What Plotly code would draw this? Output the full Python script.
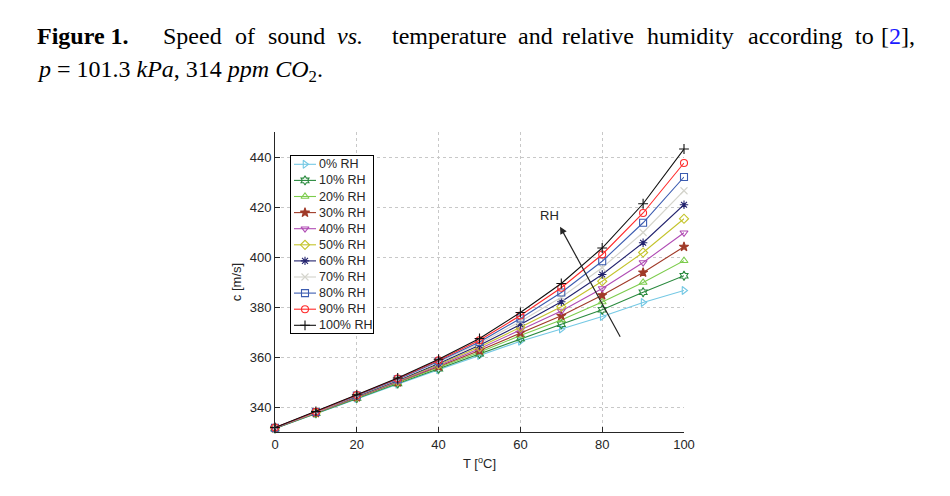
import plotly.graph_objects as go

temperature = [0, 10, 20, 30, 40, 50, 60, 70, 80, 90, 100]

rh_labels = ["0% RH", "10% RH", "20% RH", "30% RH", "40% RH", "50% RH",
             "60% RH", "70% RH", "80% RH", "90% RH", "100% RH"]

c_rh0 = [331.4, 337.4, 343.4, 349.1, 354.9, 360.6, 366.3, 371.2, 376.2, 381.8, 386.6]
c_rh10 = [331.4, 337.5, 343.6, 349.4, 355.3, 361.3, 367.4, 373.1, 378.9, 385.9, 392.5]
c_rh20 = [331.5, 337.6, 343.7, 349.6, 355.7, 361.9, 368.6, 374.8, 382.0, 389.8, 398.5]
c_rh30 = [331.5, 337.6, 343.9, 349.9, 356.2, 362.6, 369.7, 376.5, 384.7, 393.8, 404.1]
c_rh40 = [331.6, 337.7, 344.0, 350.1, 356.6, 363.3, 370.8, 378.4, 387.4, 397.8, 409.7]
c_rh50 = [331.6, 337.8, 344.2, 350.4, 357.0, 364.0, 371.9, 380.1, 390.3, 401.8, 415.3]
c_rh60 = [331.6, 337.9, 344.3, 350.6, 357.4, 364.7, 373.0, 382.1, 393.0, 405.7, 420.9]
c_rh70 = [331.7, 337.9, 344.5, 350.9, 357.9, 365.4, 374.2, 383.9, 395.7, 409.8, 426.5]
c_rh80 = [331.7, 338.0, 344.6, 351.1, 358.3, 366.0, 375.4, 385.8, 398.3, 413.7, 432.0]
c_rh90 = [331.8, 338.1, 344.8, 351.4, 358.7, 366.7, 376.6, 387.7, 401.0, 417.6, 437.6]
c_rh100 = [331.8, 338.2, 344.9, 351.6, 359.1, 367.4, 377.8, 389.4, 403.6, 421.3, 443.2]

series = [c_rh0, c_rh10, c_rh20, c_rh30, c_rh40, c_rh50, c_rh60, c_rh70, c_rh80, c_rh90, c_rh100]

colors = ["#74c8e4", "#2a8a3e", "#7ccc4c", "#a03a28", "#b04cb4", "#c4c42c",
          "#23236e", "#d4d4cc", "#3c5cb0", "#ff2a2a", "#101010"]
symbols = ["triangle-right-open", "hexagram-open", "triangle-up-open", "star",
           "triangle-down-open", "diamond-open", "asterisk-open", "x-thin-open",
           "square-open", "circle-open", "cross-thin-open"]

caption_words = ["<b>Figure 1.</b>", "Speed", "of", "sound", "<i>vs.</i>", "temperature",
                 "and", "relative", "humidity", "according", "to",
                 "[<span style='color:#1a1aff'>2</span>],"]
caption_line2 = "<i>p</i> = 101.3 <i>kPa</i>, 314 <i>ppm CO</i><sub>2</sub>."

# ---------------- layout geometry (page pixels; body has an 8px margin) -------------
OFF = 8
W, H = 934, 480
L, R, T, B = 267, 258, 124, 56
pw, ph = W - L - R, H - T - B


def px(x):
    return (x - OFF - L) / pw


def py(y):
    return (H - B - (y - OFF)) / ph


fig = go.Figure()
for lab, ys, col, sym in zip(rh_labels, series, colors, symbols):
    fig.add_trace(go.Scatter(
        x=temperature, y=ys, name=lab, mode="lines+markers",
        line=dict(color=col, width=1.1),
        marker=dict(symbol=sym, size=7, color=col, line=dict(color=col, width=1.1)),
        cliponaxis=False, showlegend=False,
    ))

# ---------------- custom legend in an inset axis (82 x 177 px box) -------------------
LX0, LX1, LY0, LY1 = 291, 373, 156, 333
lw, lh = LX1 - LX0, LY1 - LY0
for i, (lab, col, sym) in enumerate(zip(rh_labels, colors, symbols)):
    yy = lh - (8.3 + 16.1 * i)
    fig.add_trace(go.Scatter(
        x=[3, 14, 25], y=[yy, yy, yy], mode="lines+markers",
        line=dict(color=col, width=1.1),
        marker=dict(symbol=sym, size=7, color=col, opacity=[0, 1, 0],
                    line=dict(color=col, width=1.1)),
        xaxis="x2", yaxis="y2", showlegend=False, hoverinfo="skip",
    ))
    fig.add_annotation(x=25.5, y=yy, xref="x2", yref="y2", text=lab, showarrow=False,
                       xanchor="left", yanchor="middle",
                       font=dict(size=12.5, color="#262626"))

fig.update_layout(
    width=W, height=H,
    margin=dict(l=L, r=R, t=T, b=B),
    paper_bgcolor="white", plot_bgcolor="white",
    font=dict(family="Liberation Sans, Arial, sans-serif", size=13, color="#262626"),
    showlegend=False,
    xaxis=dict(range=[0, 100], tickvals=[0, 20, 40, 60, 80, 100],
               showgrid=True, gridcolor="#c8c8c8", griddash="dot", gridwidth=1,
               showline=True, linecolor="#262626", linewidth=1,
               ticks="inside", ticklen=5, tickcolor="#262626",
               zeroline=False, mirror=False,
               title=dict(text="T [<sup>o</sup>C]", standoff=8, font=dict(size=13))),
    yaxis=dict(range=[330, 450], tickvals=[340, 360, 380, 400, 420, 440],
               showgrid=True, gridcolor="#c8c8c8", griddash="dot", gridwidth=1,
               showline=True, linecolor="#262626", linewidth=1,
               ticks="inside", ticklen=5, tickcolor="#262626",
               zeroline=False, mirror=False,
               title=dict(text="c [m/s]", standoff=5, font=dict(size=13))),
    xaxis2=dict(domain=[px(LX0), px(LX1)], range=[0, lw], anchor="y2",
                showgrid=False, zeroline=False, showticklabels=False, ticks="",
                showline=True, mirror=True, linecolor="black", linewidth=1,
                fixedrange=True),
    yaxis2=dict(domain=[py(LY1), py(LY0)], range=[0, lh], anchor="x2",
                showgrid=False, zeroline=False, showticklabels=False, ticks="",
                showline=True, mirror=True, linecolor="black", linewidth=1,
                fixedrange=True),
)

# arrow indicating increasing RH
fig.add_annotation(x=69.7, y=412.1, ax=84.6, ay=367.5, xref="x", yref="y",
                   axref="x", ayref="y", text="", showarrow=True,
                   arrowhead=2, arrowsize=1.2, arrowwidth=1.2, arrowcolor="#262626")
fig.add_annotation(x=67.2, y=416.5, xref="x", yref="y", text="RH", showarrow=False,
                   font=dict(size=13, color="#262626"))

# caption (justified first line: each word placed at its measured left edge)
serif = "Liberation Serif, Times New Roman, serif"
word_x = [35, 161, 233, 266, 335, 390, 516, 560, 645, 746, 853, 879]
for wx, wtxt in zip(word_x, caption_words):
    fig.add_annotation(x=px(wx), y=py(36), xref="paper", yref="paper",
                       xanchor="left", yanchor="middle", showarrow=False,
                       text=wtxt, font=dict(family=serif, size=24, color="black"))
fig.add_annotation(x=px(35), y=py(71), xref="paper", yref="paper",
                   xanchor="left", yanchor="middle", showarrow=False, align="left",
                   text=caption_line2, font=dict(family=serif, size=24, color="black"))

fig.write_html("out.html")
